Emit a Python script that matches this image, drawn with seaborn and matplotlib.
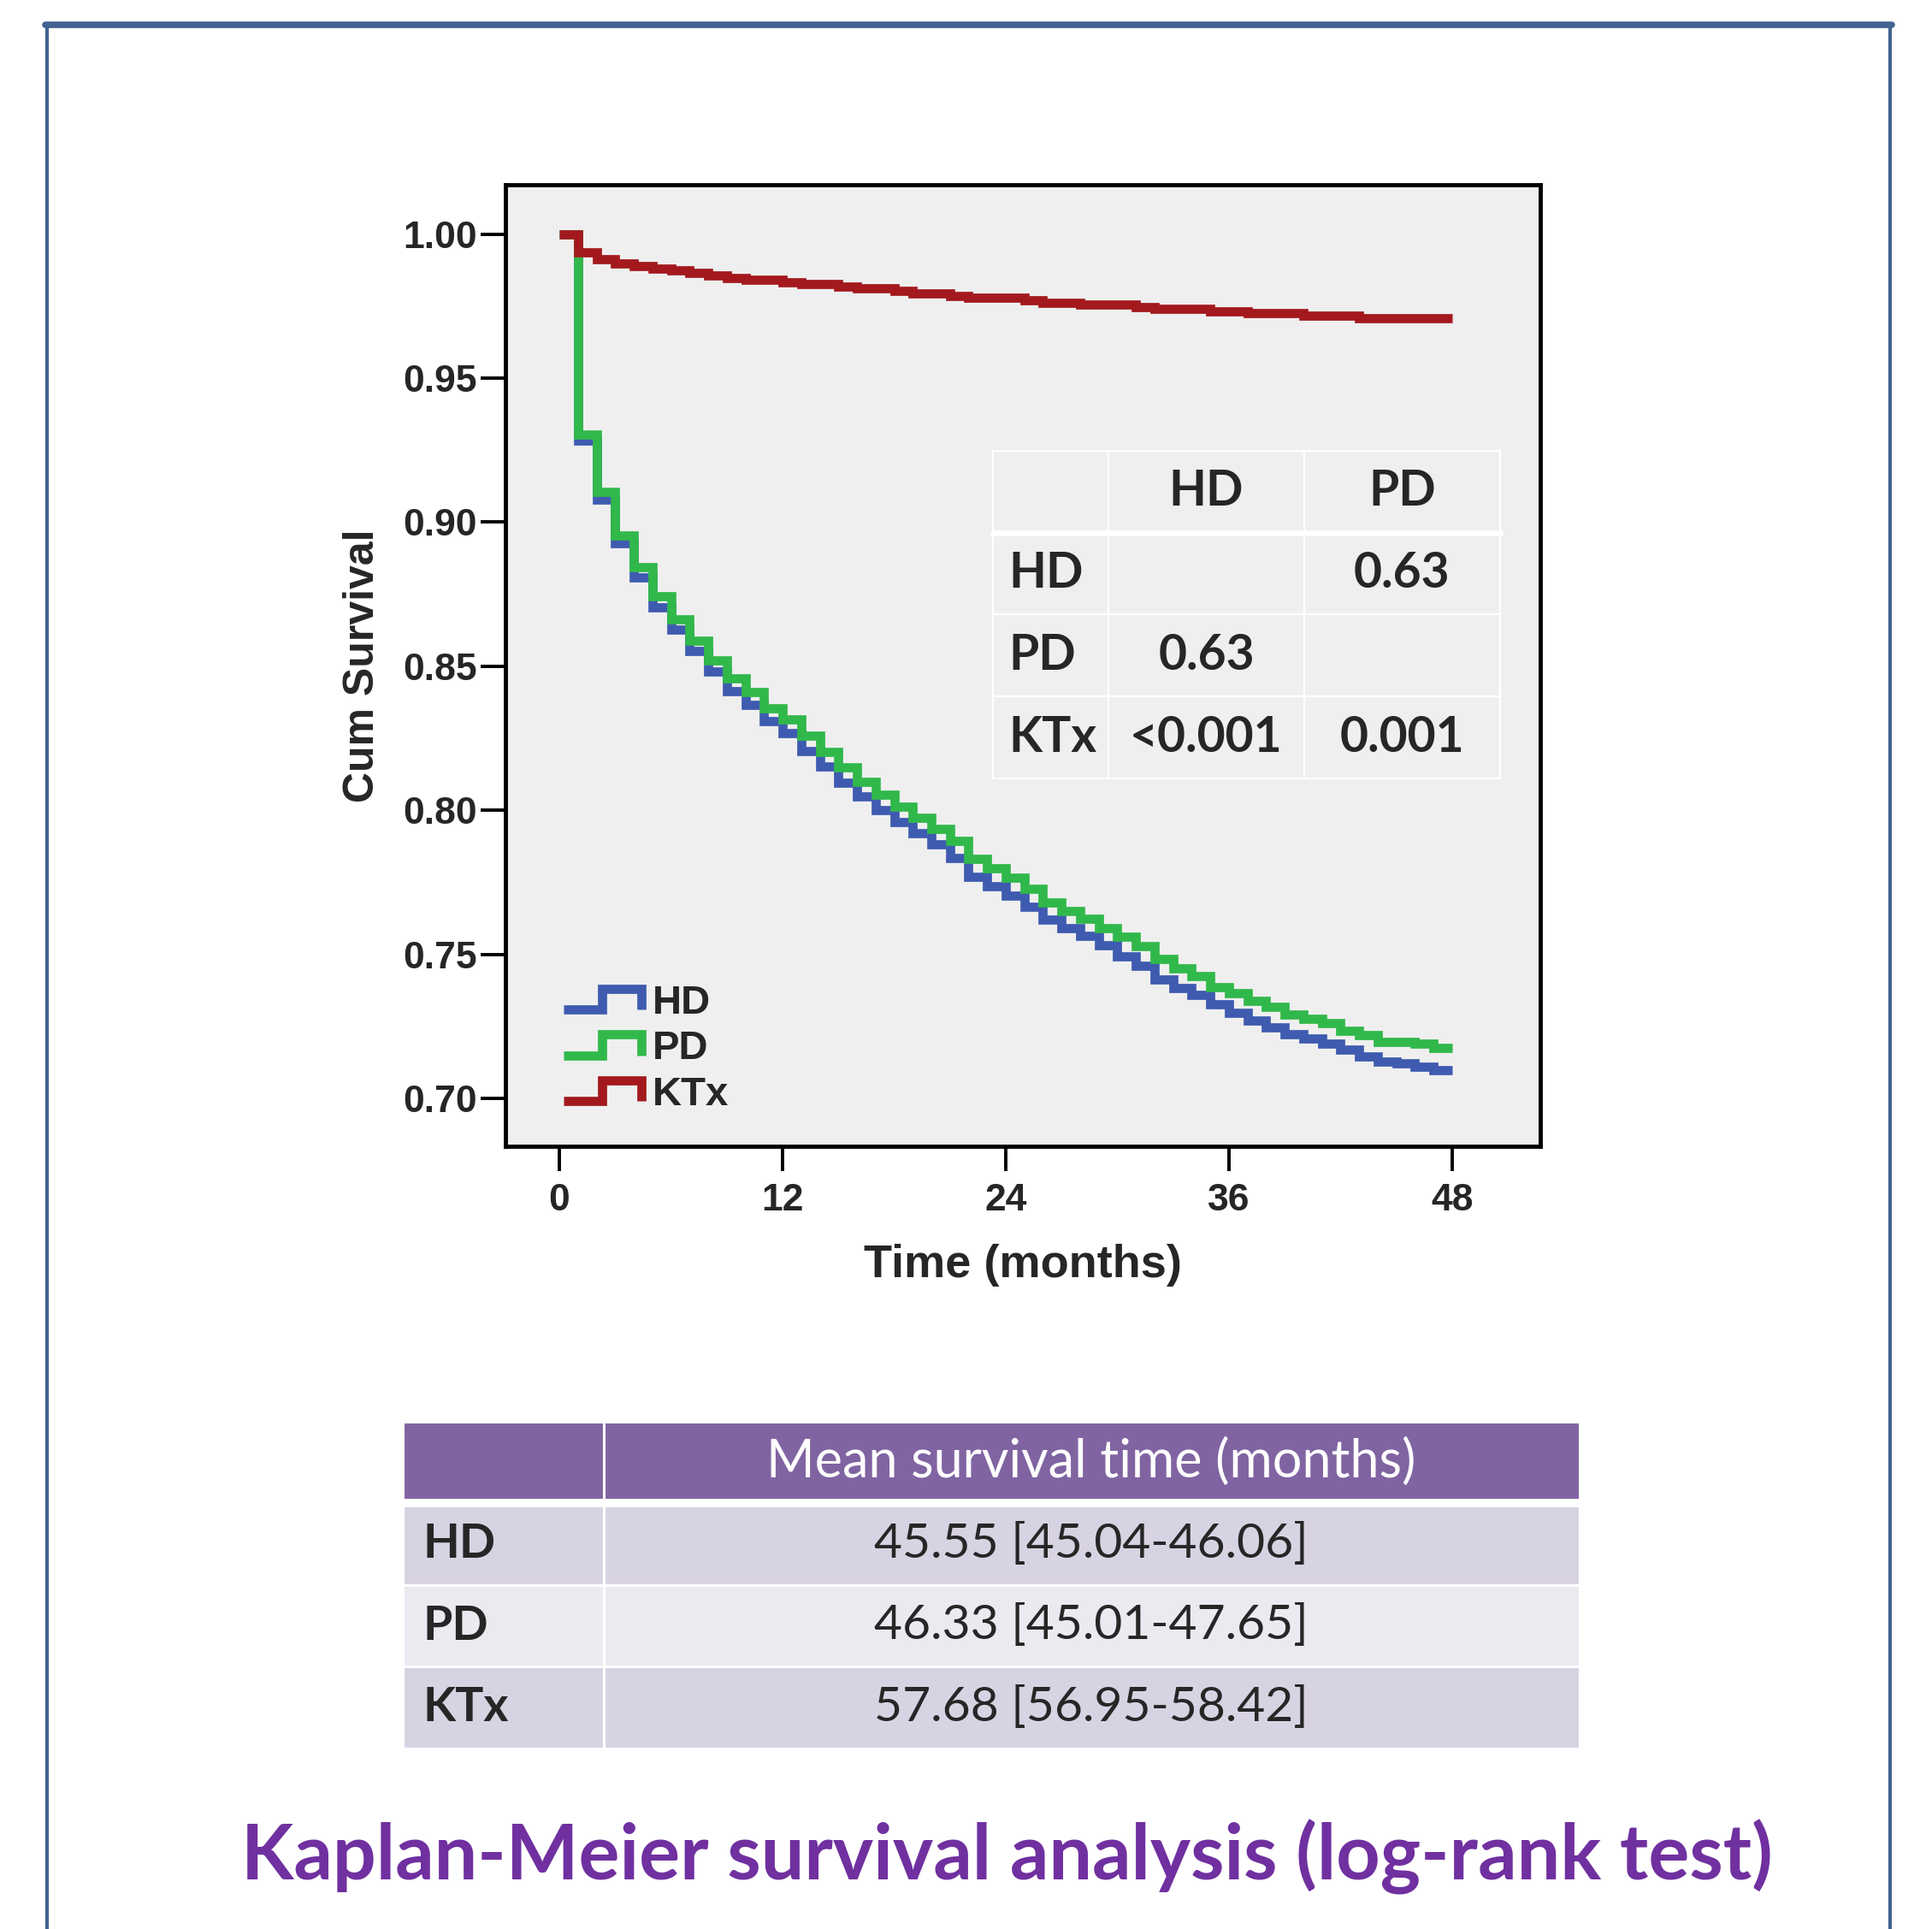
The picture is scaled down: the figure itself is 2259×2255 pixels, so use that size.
import numpy as np
import pandas as pd
import matplotlib
matplotlib.use("Agg")
import matplotlib.pyplot as plt
import seaborn as sns
from matplotlib.lines import Line2D
from matplotlib.legend_handler import HandlerBase

# ----------------------------
# DATA
# ----------------------------

months = list(range(49))

hd_surv = [1.0, 0.9284, 0.9078, 0.8926, 0.8809, 0.8705, 0.8626, 0.8554, 0.8482, 0.8413,
           0.8365, 0.8309, 0.8269, 0.8207, 0.8151, 0.8096, 0.8049, 0.8000, 0.7960, 0.7920,
           0.7881, 0.7834, 0.7770, 0.7738, 0.7705, 0.7666, 0.7622, 0.7590, 0.7564, 0.7532,
           0.7493, 0.7461, 0.7414, 0.7384, 0.7359, 0.7326, 0.7296, 0.7269, 0.7247, 0.7223,
           0.7208, 0.7191, 0.7168, 0.7146, 0.7128, 0.7121, 0.7111, 0.7098, 0.7098]

pd_surv = [1.0, 0.9304, 0.9106, 0.8955, 0.8845, 0.8742, 0.8662, 0.8589, 0.8520, 0.8457,
           0.8409, 0.8353, 0.8314, 0.8258, 0.8203, 0.8149, 0.8099, 0.8053, 0.8013, 0.7974,
           0.7934, 0.7895, 0.7832, 0.7800, 0.7767, 0.7728, 0.7680, 0.7649, 0.7624, 0.7592,
           0.7562, 0.7530, 0.7483, 0.7451, 0.7426, 0.7386, 0.7364, 0.7340, 0.7317, 0.7292,
           0.7275, 0.7261, 0.7235, 0.7219, 0.7196, 0.7196, 0.7189, 0.7174, 0.7174]

ktx_surv = [1.0, 0.9937, 0.9913, 0.9898, 0.9888, 0.9880, 0.9873, 0.9865, 0.9856, 0.9848,
            0.9842, 0.9842, 0.9833, 0.9826, 0.9826, 0.9819, 0.9811, 0.9811, 0.9802, 0.9794,
            0.9794, 0.9786, 0.9779, 0.9779, 0.9779, 0.9770, 0.9762, 0.9762, 0.9754, 0.9754,
            0.9754, 0.9746, 0.9740, 0.9740, 0.9740, 0.9732, 0.9732, 0.9725, 0.9725, 0.9725,
            0.9717, 0.9717, 0.9717, 0.9708, 0.9708, 0.9708, 0.9708, 0.9708, 0.9708]

groups = ["HD", "PD", "KTx"]
colors = {"HD": "#3E5BB0", "PD": "#31B84B", "KTx": "#A3191D"}

x_ticks = [0, 12, 24, 36, 48]
y_ticks = [0.70, 0.75, 0.80, 0.85, 0.90, 0.95, 1.00]

# log-rank p-values (inset)
pval_cols = ["HD", "PD"]
pval_rows = ["HD", "PD", "KTx"]
pval_text = [["", "0.63"],
             ["0.63", ""],
             ["<0.001", "0.001"]]

# mean survival table
mean_surv = [45.55, 46.33, 57.68]
ci_low = [45.04, 45.01, 56.95]
ci_high = [46.06, 47.65, 58.42]

title = "Kaplan-Meier survival analysis (log-rank test)"

# ----------------------------
# STYLE
# ----------------------------

sns.set_style("white")
plt.rcParams["font.family"] = ["Liberation Sans", "DejaVu Sans"]
CAL = ["Lato", "DejaVu Sans"]

df = pd.DataFrame({
    "Time": months * 3,
    "Survival": hd_surv + pd_surv + ktx_surv,
    "Group": ["HD"] * 49 + ["PD"] * 49 + ["KTx"] * 49,
})

W, H = 2259, 2255
fig = plt.figure(figsize=(W / 100, H / 100), dpi=100)
fig.patch.set_facecolor("white")

# blue slide frame
frame_col = "#41638F"
fig.add_artist(Line2D([55 / W, 55 / W], [0, 1 - 29 / H], transform=fig.transFigure,
                      color=frame_col, lw=3))
fig.add_artist(Line2D([2210 / W, 2210 / W], [0, 1 - 29 / H], transform=fig.transFigure,
                      color=frame_col, lw=3))
fig.add_artist(Line2D([53 / W, 2212 / W], [1 - 29 / H, 1 - 29 / H], transform=fig.transFigure,
                      color=frame_col, lw=5.5))

# ----------------------------
# KAPLAN-MEIER PLOT
# ----------------------------

ax = fig.add_axes([591 / W, 1 - 1340 / H, 1210 / W, 1124 / H])
ax.set_facecolor("#EFEFEF")

sns.lineplot(data=df, x="Time", y="Survival", hue="Group", hue_order=groups,
             palette=colors, drawstyle="steps-post", estimator=None, sort=False,
             linewidth=7.7, legend=False, ax=ax,
             solid_joinstyle="miter", solid_capstyle="butt")

ax.set_xlim(-2.90, 52.74)
ax.set_ylim(0.6834, 1.0171)
ax.set_xticks(x_ticks)
ax.set_yticks(y_ticks)
ax.set_yticklabels([f"{v:.2f}" for v in y_ticks])
ax.tick_params(axis="both", direction="out", length=21, width=2.8, color="black",
               labelsize=32, left=True, bottom=True)
ax.tick_params(axis="y", pad=3)
ax.tick_params(axis="x", pad=10)
for lab in ax.get_xticklabels() + ax.get_yticklabels():
    lab.set_fontweight("bold")

for sp in ax.spines.values():
    sp.set_visible(True)
    sp.set_color("black")
    sp.set_linewidth(3.5)

ax.set_xlabel("Time (months)", fontsize=39, fontweight="bold")
ax.set_ylabel("Cum Survival", fontsize=36, fontweight="bold")
ax.xaxis.set_label_coords(0.5, -0.101)
ax.yaxis.set_label_coords(-0.119, 0.5)
ax.grid(False)


# step-shaped legend keys like SPSS
class StepHandler(HandlerBase):
    def create_artists(self, legend, orig_handle, xdescent, ydescent, width, height,
                       fontsize, trans):
        x0, y0 = -xdescent, -ydescent
        xs = [x0, x0 + 0.47 * width, x0 + 0.47 * width, x0 + 0.94 * width, x0 + 0.94 * width]
        ys = [y0, y0, y0 + height, y0 + height, y0]
        line = Line2D(xs, ys, color=orig_handle.get_color(),
                      lw=orig_handle.get_linewidth(),
                      solid_joinstyle="miter", solid_capstyle="butt")
        line.set_transform(trans)
        return [line]


handles = [Line2D([], [], color=colors[g], lw=7.7) for g in groups]
leg = ax.legend(handles, groups, loc="lower left", bbox_to_anchor=(0.056, 0.034),
                frameon=False, fontsize=34, handlelength=2.05, handleheight=0.42,
                handletextpad=0.15, labelspacing=0.2, borderpad=0, borderaxespad=0,
                handler_map={Line2D: StepHandler()})
for t in leg.get_texts():
    t.set_fontweight("bold")

# inset p-value table
inset_cells = [[""] + pval_cols] + [[r] + v for r, v in zip(pval_rows, pval_text)]
ib = [0.471, 0.3826, 0.490, 0.3407]
itab = ax.table(cellText=inset_cells, colWidths=[0.2277, 0.3862, 0.3862],
                cellLoc="center", bbox=ib, zorder=5)
itab.auto_set_font_size(False)
for (r, c), cell in itab.get_celld().items():
    cell.set_facecolor("#EFEFEF")
    cell.set_edgecolor("white")
    cell.set_linewidth(1.6)
    txt = cell.get_text()
    txt.set_fontsize(41)
    txt.set_fontfamily(CAL)
    txt.set_fontweight("bold")
    if c == 0:
        txt.set_ha("left")
        cell.PAD = 0.14
hdr_y = ib[1] + ib[3] * 3 / 4
ax.add_artist(Line2D([ib[0], ib[0] + ib[2]], [hdr_y, hdr_y], transform=ax.transAxes,
                     color="white", lw=5, zorder=6))

# ----------------------------
# MEAN SURVIVAL TABLE
# ----------------------------

tax = fig.add_axes([470.7 / W, 1 - 2044 / H, 1376 / W, 382.3 / H])
tax.axis("off")
body = [[g, f"{m:.2f} [{lo:.2f}-{hi:.2f}]"] for g, m, lo, hi in zip(groups, mean_surv, ci_low, ci_high)]
cells = [["", "Mean survival time (months)"]] + body
ttab = tax.table(cellText=cells, colWidths=[0.1707, 0.8293], cellLoc="center",
                 bbox=[0, 0, 1, 1])
ttab.auto_set_font_size(False)
row_cols = ["#8064A2", "#D8D3E3", "#ECE9F0", "#D8D3E3"]
for (r, c), cell in ttab.get_celld().items():
    cell.set_facecolor(row_cols[r])
    cell.set_edgecolor("white")
    cell.set_linewidth(2.2)
    txt = cell.get_text()
    txt.set_fontsize(41)
    txt.set_fontfamily(CAL)
    if r == 0:
        txt.set_color("white")
        txt.set_fontsize(44)
    elif c == 0:
        txt.set_fontweight("bold")
        txt.set_ha("left")
        txt.set_fontsize(40)
tax.axhline(0.75, color="white", lw=7, zorder=10)

# ----------------------------
# TITLE
# ----------------------------

fig.text(1177 / W, 1 - 2171 / H, title, ha="center", va="center", fontsize=64.5,
         fontweight="bold", color="#7030A0", family=CAL)

fig.savefig("out.png", dpi=100, facecolor="white")
